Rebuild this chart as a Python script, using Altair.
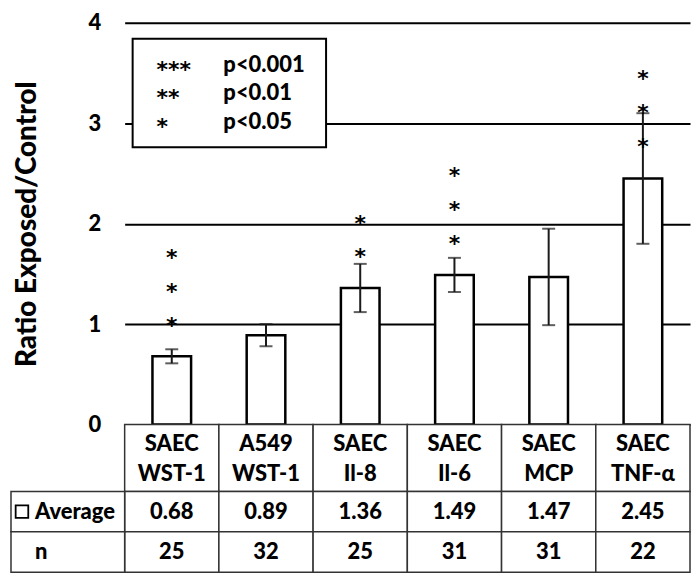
import altair as alt
import pandas as pd

# ---------------- data ----------------
categories = ["SAEC WST-1", "A549 WST-1", "SAEC Il-8", "SAEC Il-6", "SAEC MCP", "SAEC TNF-α"]
averages = [0.68, 0.89, 1.36, 1.49, 1.47, 2.45]
errors = [0.07, 0.11, 0.24, 0.17, 0.48, 0.65]
n_values = [25, 32, 25, 31, 31, 22]
# vertical positions (in ratio units) of the significance asterisks above each bar
star_positions = [[1.03, 1.37, 1.71], [], [1.72, 2.05], [1.85, 2.19, 2.52], [], [2.81, 3.15, 3.49]]
legend_stars = ["***", "**", "*"]
legend_text = ["p<0.001", "p<0.01", "p<0.05"]
legend_rows = [3.58, 3.30, 3.01]
legend_box = [3.84, 2.76]
y_ticks = [0, 1, 2, 3, 4]
row_names = ["Average", "n"]

FONT = "Lato"
STARFONT = "DejaVu Sans"
WEIGHT = 900
YTITLE = "Ratio Exposed/Control"
W = 567
H = 403

df = pd.DataFrame({"cat": categories, "avg": averages, "err": errors, "n": n_values})
df["lo"] = df["avg"] - df["err"]
df["hi"] = df["avg"] + df["err"]

stars_df = pd.DataFrame(
    [{"cat": c, "sy": s} for c, ss in zip(categories, star_positions) for s in ss]
)
legend_df = pd.DataFrame({"stars": legend_stars, "p": legend_text, "row": legend_rows})
box_df = pd.DataFrame({"top": [legend_box[0]], "bottom": [legend_box[1]]})

yscale = alt.Scale(domain=[0, 4], nice=False)
bar_xscale = alt.Scale(paddingInner=0.59, paddingOuter=0.295)
xbar = alt.X("cat:N", sort=categories, scale=bar_xscale, axis=None)

yaxis = alt.Axis(values=y_ticks, format="d", grid=True, gridColor="black", gridWidth=2,
                 domain=False, ticks=False, tickSize=0,
                 labelFont=FONT, labelFontSize=22, labelFontWeight=WEIGHT,
                 labelColor="black", labelPadding=24,
                 titleFont=FONT, titleFontSize=28, titleFontWeight=WEIGHT,
                 titleColor="black", titlePadding=47)

base = alt.Chart(df)

bars = base.mark_bar(fill="white", stroke="black", strokeWidth=2.5).encode(
    x=xbar,
    y=alt.Y("avg:Q", scale=yscale, axis=yaxis, title=YTITLE),
)

err_rule = base.mark_rule(color="#1a1a1a", strokeWidth=2).encode(
    x=xbar,
    y=alt.Y("lo:Q", scale=yscale, title=YTITLE),
    y2="hi:Q",
)
cap_lo = base.mark_tick(color="#1a1a1a", size=13, thickness=2, orient="horizontal").encode(
    x=xbar, y=alt.Y("lo:Q", scale=yscale, title=YTITLE)
)
cap_hi = base.mark_tick(color="#1a1a1a", size=13, thickness=2, orient="horizontal").encode(
    x=xbar, y=alt.Y("hi:Q", scale=yscale, title=YTITLE)
)

stars = alt.Chart(stars_df).mark_text(
    text="*", font=STARFONT, fontSize=22, fontWeight="bold", color="black",
    baseline="alphabetic", dy=12
).encode(
    x=alt.X("cat:N", sort=categories, scale=bar_xscale, axis=None),
    y=alt.Y("sy:Q", scale=yscale, title=YTITLE),
)

box = alt.Chart(box_df).mark_rect(fill="white", stroke="black", strokeWidth=2).encode(
    x=alt.value(8), x2=alt.value(202),
    y=alt.Y("top:Q", scale=yscale, title=YTITLE), y2="bottom:Q",
)

leg_stars = alt.Chart(legend_df).mark_text(
    font=STARFONT, fontSize=22, fontWeight="bold", color="black",
    align="left", baseline="alphabetic", dy=12
).encode(
    x=alt.value(32),
    y=alt.Y("row:Q", scale=yscale, title=YTITLE),
    text="stars:N",
)
leg_p = alt.Chart(legend_df).mark_text(
    font=FONT, fontSize=22, fontWeight=WEIGHT, color="black",
    align="left", baseline="middle"
).encode(
    x=alt.value(99),
    y=alt.Y("row:Q", scale=yscale, title=YTITLE),
    text="p:N",
)

top = alt.layer(bars, err_rule, cap_lo, cap_hi, stars, box, leg_stars, leg_p).properties(
    width=W, height=H
)

# ---------------- header row (category labels) ----------------
xtab = alt.X("cat:N", sort=categories,
             scale=alt.Scale(paddingInner=0, paddingOuter=0), axis=None)
HEAD_H = 67
head_cells = alt.Chart(df).mark_rect(fill="white", stroke="#333333", strokeWidth=1.5).encode(
    x=xtab, y=alt.value(0), y2=alt.value(HEAD_H)
)
head_text = alt.Chart(df).mark_text(
    font=FONT, fontSize=22, fontWeight=WEIGHT, color="black",
    lineBreak=" ", lineHeight=31, baseline="middle"
).encode(x=xtab, y=alt.value(19), text="cat:N")
header = alt.layer(head_cells, head_text).properties(width=W, height=HEAD_H)

# ---------------- data table rows ----------------
tab_df = pd.DataFrame(
    [{"cat": c, "row": "Average", "label": f"{a:.2f}"} for c, a in zip(categories, averages)]
    + [{"cat": c, "row": "n", "label": str(v)} for c, v in zip(categories, n_values)]
)
rows_df = pd.DataFrame({"row": row_names})
yrow = alt.Y("row:N", sort=row_names,
             scale=alt.Scale(paddingInner=0, paddingOuter=0), axis=None)

cells = alt.Chart(tab_df).mark_rect(fill="white", stroke="#333333", strokeWidth=1.5).encode(
    x=xtab, y=yrow
)
cell_text = alt.Chart(tab_df).mark_text(
    font=FONT, fontSize=22, fontWeight=WEIGHT, color="black", baseline="middle"
).encode(x=xtab, y=yrow, text="label:N")

left_cells = alt.Chart(rows_df).mark_rect(fill="white", stroke="#333333", strokeWidth=1.5).encode(
    x=alt.value(-114), x2=alt.value(0), y=yrow
)
left_text = alt.Chart(rows_df).mark_text(
    font=FONT, fontSize=22, fontWeight=WEIGHT, color="black",
    align="left", baseline="middle"
).encode(x=alt.value(-90), y=yrow, text="row:N")
swatch = alt.Chart(rows_df).transform_filter(alt.datum.row == "Average").mark_point(
    shape="square", filled=False, stroke="black", strokeWidth=1.8, size=160, opacity=1
).encode(x=alt.value(-103), y=yrow)

table = alt.layer(cells, cell_text, left_cells, left_text, swatch).properties(
    width=W, height=81
)

chart = alt.vconcat(top, header, table, spacing=0, bounds="flush").properties(
    padding={"left": 2, "top": 3, "right": 0, "bottom": 0}, background="white"
).configure_view(stroke=None)

chart.save("out.html", embed_options={"renderer": "svg", "actions": False})
